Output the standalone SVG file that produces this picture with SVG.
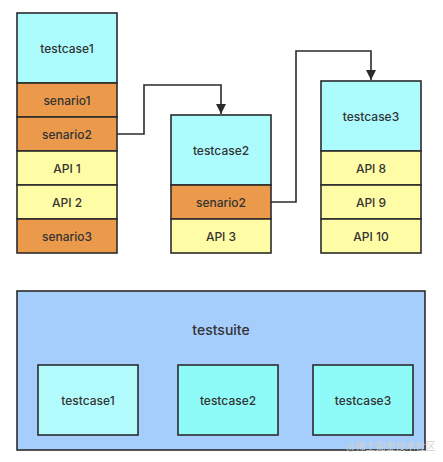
<svg xmlns="http://www.w3.org/2000/svg" width="443" height="462" viewBox="0 0 443 462">
<style>
rect{stroke:#2b2b2b;stroke-width:1.6}
.tc{fill:#acfcfe}
.sc{fill:#eb9a4c}
.api{fill:#fefca5}
.suite{fill:#a6cefd}
.in1{fill:#b3fcfe}
.in2{fill:#8ffbf9}
text{font-family:"Inter","Liberation Sans",Arial,sans-serif;font-size:12px;font-weight:500;fill:#333;text-anchor:middle;dominant-baseline:central}
.big{font-size:14px}
.conn{fill:none;stroke:#2b2b2b;stroke-width:1.6}
.wm{font-family:"Noto Sans CJK SC",sans-serif;font-size:10px;font-weight:400;fill:#d0d0d0;text-anchor:start}
</style>
<defs>
<marker id="arr" viewBox="0 0 10 10" refX="10" refY="5" markerWidth="10" markerHeight="10" markerUnits="userSpaceOnUse" orient="auto">
<path d="M0,0 L10,5 L0,10 z" fill="#2b2b2b"/>
</marker>
</defs>
<rect x="0" y="0" width="443" height="462" style="fill:#fff;stroke:none"/>
<g id="stack1">
<rect class="tc" x="17" y="13" width="100" height="70"/>
<text x="67" y="48">testcase1</text>
<rect class="sc" x="17" y="83" width="100" height="34"/>
<text x="67" y="100">senario1</text>
<rect class="sc" x="17" y="117" width="100" height="34"/>
<text x="67" y="134">senario2</text>
<rect class="api" x="17" y="151" width="100" height="34"/>
<text x="67" y="168">API 1</text>
<rect class="api" x="17" y="185" width="100" height="34"/>
<text x="67" y="202">API 2</text>
<rect class="sc" x="17" y="219" width="100" height="34"/>
<text x="67" y="236">senario3</text>
</g>
<g id="stack2">
<rect class="tc" x="171" y="115" width="100" height="70"/>
<text x="221" y="150">testcase2</text>
<rect class="sc" x="171" y="185" width="100" height="34"/>
<text x="221" y="202">senario2</text>
<rect class="api" x="171" y="219" width="100" height="34"/>
<text x="221" y="236">API 3</text>
</g>
<g id="stack3">
<rect class="tc" x="321" y="81" width="100" height="70"/>
<text x="371" y="116">testcase3</text>
<rect class="api" x="321" y="151" width="100" height="34"/>
<text x="371" y="168">API 8</text>
<rect class="api" x="321" y="185" width="100" height="34"/>
<text x="371" y="202">API 9</text>
<rect class="api" x="321" y="219" width="100" height="34"/>
<text x="371" y="236">API 10</text>
</g>
<g id="connectors">
<path class="conn" d="M117,134 H144 V85 H221 V114" marker-end="url(#arr)"/>
<path class="conn" d="M271,202 H296 V51 H371 V80" marker-end="url(#arr)"/>
</g>
<g id="testsuite">
<rect class="suite" x="17" y="291" width="408" height="159"/>
<text class="big" x="221" y="329">testsuite</text>
</g>
<g id="suite-tc1">
<rect class="in1" x="38" y="365" width="100" height="70"/>
<text x="88" y="400">testcase1</text>
</g>
<g id="suite-tc2">
<rect class="in2" x="178" y="365" width="100" height="70"/>
<text x="228" y="400">testcase2</text>
</g>
<g id="suite-tc3">
<rect class="in2" x="313" y="365" width="100" height="70"/>
<text x="363" y="400">testcase3</text>
</g>
<text class="wm" x="346" y="445">@稀土掘金技术社区</text>
</svg>
